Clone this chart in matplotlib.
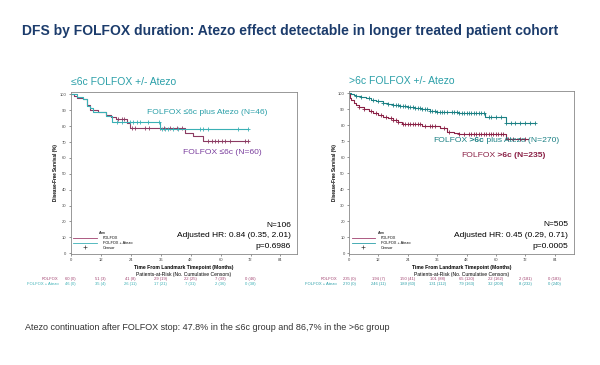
import matplotlib
matplotlib.use("Agg")
import matplotlib.pyplot as plt
import numpy as np
from matplotlib.lines import Line2D
from matplotlib.text import Annotation

plt.rcParams['font.family'] = ['Liberation Sans', 'DejaVu Sans']

# ---- data ----
# left panel (<=6c)
l_fol_t = [0, 1.5, 2.5, 5, 6.5, 7.7, 11, 14, 16, 18, 22.4, 23.7, 45.7, 49, 53, 71]
l_fol_s = [100, 99, 98, 97, 93.3, 90, 88.8, 87, 85.5, 84.3, 82, 78.6, 75.5, 74, 70.5, 70.5]
l_fol_c = [19, 20.5, 21.5, 24.5, 25.8, 29.8, 31.2, 35.9, 37.2, 39.9, 42.5, 44.5,
           55.1, 56.4, 57.7, 59.1, 60.4, 61.7, 63.7, 69.7, 71]
l_atz_t = [0, 2.4, 5, 6.4, 7.7, 9, 14, 16.4, 35.7, 71]
l_atz_s = [100, 98.5, 96.8, 93, 91.6, 88.7, 86.5, 82.3, 78, 78]
l_atz_c = [18.6, 20.4, 23.7, 25.1, 26.4, 27.7, 31.1, 35.5, 36.4, 37.7, 39.1, 41.1,
           43.1, 51.7, 53.1, 55.1, 67.1, 71.1]

# right panel (>6c)
r_fol_t = [0, 0.5, 1, 2, 3, 4, 6, 8, 10, 12, 14, 16, 18, 20, 21.5, 30, 37, 40, 43, 45, 64, 73]
r_fol_s = [100, 97, 95.8, 94, 92.7, 91.5, 90.2, 89, 87.5, 86.5, 85.4, 84.3, 83.3, 82, 80.6,
           79.8, 78.5, 76, 75, 74.3, 71.5, 71.5]
r_fol_c = [4, 6, 9, 11, 13, 15, 17, 18, 19, 20, 22, 23, 24, 25, 26, 27, 28, 29, 31, 33, 34, 35,
           39, 41, 45, 47, 49, 50, 51, 52, 53, 54, 55, 56, 57, 58, 59, 60, 61, 62, 63, 65, 67,
           70, 72]
r_atz_t = [0, 1, 2, 3, 5, 7, 9, 11, 14, 16, 18, 21, 24, 27, 30, 33, 36, 41, 45, 55.5, 64, 76]
r_atz_s = [100, 99.4, 98.8, 98.2, 97.5, 96.9, 96, 95.2, 94, 93.1, 92.8, 92.2, 91.6, 91,
           90.2, 88.9, 88.5, 88.1, 87.6, 85.2, 81.5, 81.5]
r_atz_c = [3, 5, 8, 10, 12, 14, 16, 18, 19, 20, 21, 22, 23, 24, 25, 26, 27, 28, 29, 30, 31,
           32, 33, 34, 35, 36, 37, 38, 39, 40, 42, 43, 44, 45, 46, 47, 48, 49, 50, 51, 52,
           53, 54, 55, 57, 58, 60, 62, 64, 66, 68, 70, 72, 74, 76]

risk_times = [0, 12, 24, 36, 48, 60, 72, 84]
l_risk_fol = ["60 (0)", "51 (3)", "41 (8)", "29 (19)", "22 (25)", "7 (39)", "0 (46)"]
l_risk_atz = ["46 (0)", "35 (4)", "26 (11)", "17 (21)", "7 (31)", "2 (36)", "0 (38)"]
r_risk_fol = ["235 (0)", "194 (7)", "150 (41)", "101 (88)", "65 (120)", "22 (162)", "2 (181)", "0 (183)"]
r_risk_atz = ["270 (0)", "246 (11)", "189 (60)", "131 (112)", "79 (163)", "32 (209)", "8 (232)", "0 (240)"]

fig = plt.figure(figsize=(6, 3.65), dpi=100)
fig.patch.set_facecolor('white')


def km(ax, t, s, cens, color):
    ax.step(t, s, where='post', color=color, lw=0.8)
    idx = np.searchsorted(t, cens, side='right') - 1     # censor marks sit on the curve
    ax.plot(cens, np.array(s)[idx], ls='none', marker='+', color=color, ms=3, mew=0.6)


def panel(rect, xmax, title, curves, risk, stats, fol_col, atz_col):
    ax = fig.add_axes(rect)
    for t, s, c, col in curves:
        km(ax, t, s, c, col)
    ax.set_xlim(0, xmax)
    ax.set_ylim(-0.5, 101.5)
    ax.set_xticks(risk_times)
    ax.set_yticks(range(0, 101, 10))
    ax.tick_params(labelsize=3, length=1.5, width=0.4, colors='#444444', pad=1.5)
    for sp in ax.spines.values():
        sp.set_color('#888888')
        sp.set_linewidth(0.6)
    ax.set_ylabel('Disease-Free Survival (%)', fontsize=3.3, fontweight='bold', labelpad=1)
    ax.text(0, 1.064, title, transform=ax.transAxes, fontsize=7.5, color='#2a9fa8', va='center')
    tr = ax.get_xaxis_transform()
    ax.text(0.5, -0.085, 'Time From Landmark Timepoint (Months)', transform=ax.transAxes,
            ha='center', va='center', fontsize=3.6, fontweight='bold')
    ax.text(0.5, -0.125, 'Patients-at-Risk (No. Cumulative Censors)', transform=ax.transAxes,
            ha='center', va='center', fontsize=3.6)
    rows = [('FOLFOX', risk[0], fol_col, -0.152), ('FOLFOX + Atezo', risk[1], atz_col, -0.187)]
    for lab, vals, col, y in rows:
        ax.text(-5, y, lab, transform=tr, ha='right', va='center', fontsize=3, color=col, clip_on=False)
        for x, v in zip(risk_times, vals):
            ax.text(x, y, v, transform=tr, ha='center', va='center', fontsize=3, color=col, clip_on=False)
    for i, line in enumerate(stats):
        ax.text(0.975, 0.178 - i * 0.066, line, transform=ax.transAxes, ha='right', va='center',
                fontsize=6.0)
    handles = [Line2D([], [], color=fol_col, lw=0.6), Line2D([], [], color=atz_col, lw=0.6),
               Line2D([], [], ls='none', marker='+', color='#444444', ms=2.5, mew=0.5)]
    ax.legend(handles, ['FOLFOX', 'FOLFOX + Atezo', 'Censor'], title='Arm', fontsize=2.8,
              title_fontsize=2.8, frameon=False, loc='lower left', bbox_to_anchor=(0.0, 0.01),
              handlelength=6, handletextpad=1.5, labelspacing=0.2, borderpad=0.2)
    return ax


axL = panel([70.7 / 600, 1 - 254 / 365, 226 / 600, 162 / 365], 90.5, '\u22646c FOLFOX +/- Atezo',
            [(l_fol_t, l_fol_s, l_fol_c, '#8c3b62'), (l_atz_t, l_atz_s, l_atz_c, '#3ab0b5')],
            (l_risk_fol, l_risk_atz), ['N=106', 'Adjusted HR: 0.84 (0.35, 2.01)', 'p=0.6986'],
            '#a0406e', '#3ab0b5')
fig.text(146.7 / 600, 1 - 112.7 / 365, 'FOLFOX \u22646c plus Atezo (N=46)',
         fontsize=6.1, color='#2a9fa8', va='center')
fig.text(182.7 / 600, 1 - 152.3 / 365, 'FOLFOX \u22646c (N=60)',
         fontsize=6.1, color='#7b3f9e', va='center')

axR = panel([349 / 600, 1 - 254 / 365, 225 / 600, 163 / 365], 91.9, '>6c FOLFOX +/- Atezo',
            [(r_fol_t, r_fol_s, r_fol_c, '#8a2146'), (r_atz_t, r_atz_s, r_atz_c, '#1b8084')],
            (r_risk_fol, r_risk_atz), ['N=505', 'Adjusted HR: 0.45 (0.29, 0.71)', 'p=0.0005'],
            '#a0406e', '#2a9fa8')

# labels with a bold part: each piece anchored to the right end of the previous one
t1 = fig.text(433 / 600, 1 - 140 / 365, 'FOLFOX', fontsize=6.1, color='#1b8084', va='center')
t2 = fig.add_artist(Annotation(' >6c', xy=(1, 0.5), xycoords=t1, va='center',
                               fontsize=6.1, color='#1b8084', fontweight='bold'))
fig.add_artist(Annotation(' plus Atezo (N=270)', xy=(1, 0.5), xycoords=t2,
                          va='center', fontsize=6.1, color='#1b8084'))
t3 = fig.text(461 / 600, 1 - 155.7 / 365, 'FOLFOX', fontsize=6.1, color='#8a2146', va='center')
fig.add_artist(Annotation(' >6c (N=235)', xy=(1, 0.5), xycoords=t3, va='center',
                          fontsize=6.1, color='#8a2146', fontweight='bold'))

fig.text(22 / 600, 1 - 31 / 365, 'DFS by FOLFOX duration: Atezo effect detectable in longer treated patient cohort',
         fontsize=10, fontweight='bold', color='#1c3c6c', va='center')
fig.text(25 / 600, 1 - 327 / 365,
         'Atezo continuation after FOLFOX stop: 47.8% in the \u22646c group and 86,7% in the >6c group',
         fontsize=6.5, color='#333333', va='center')

fig.savefig('out.png', dpi=100)
